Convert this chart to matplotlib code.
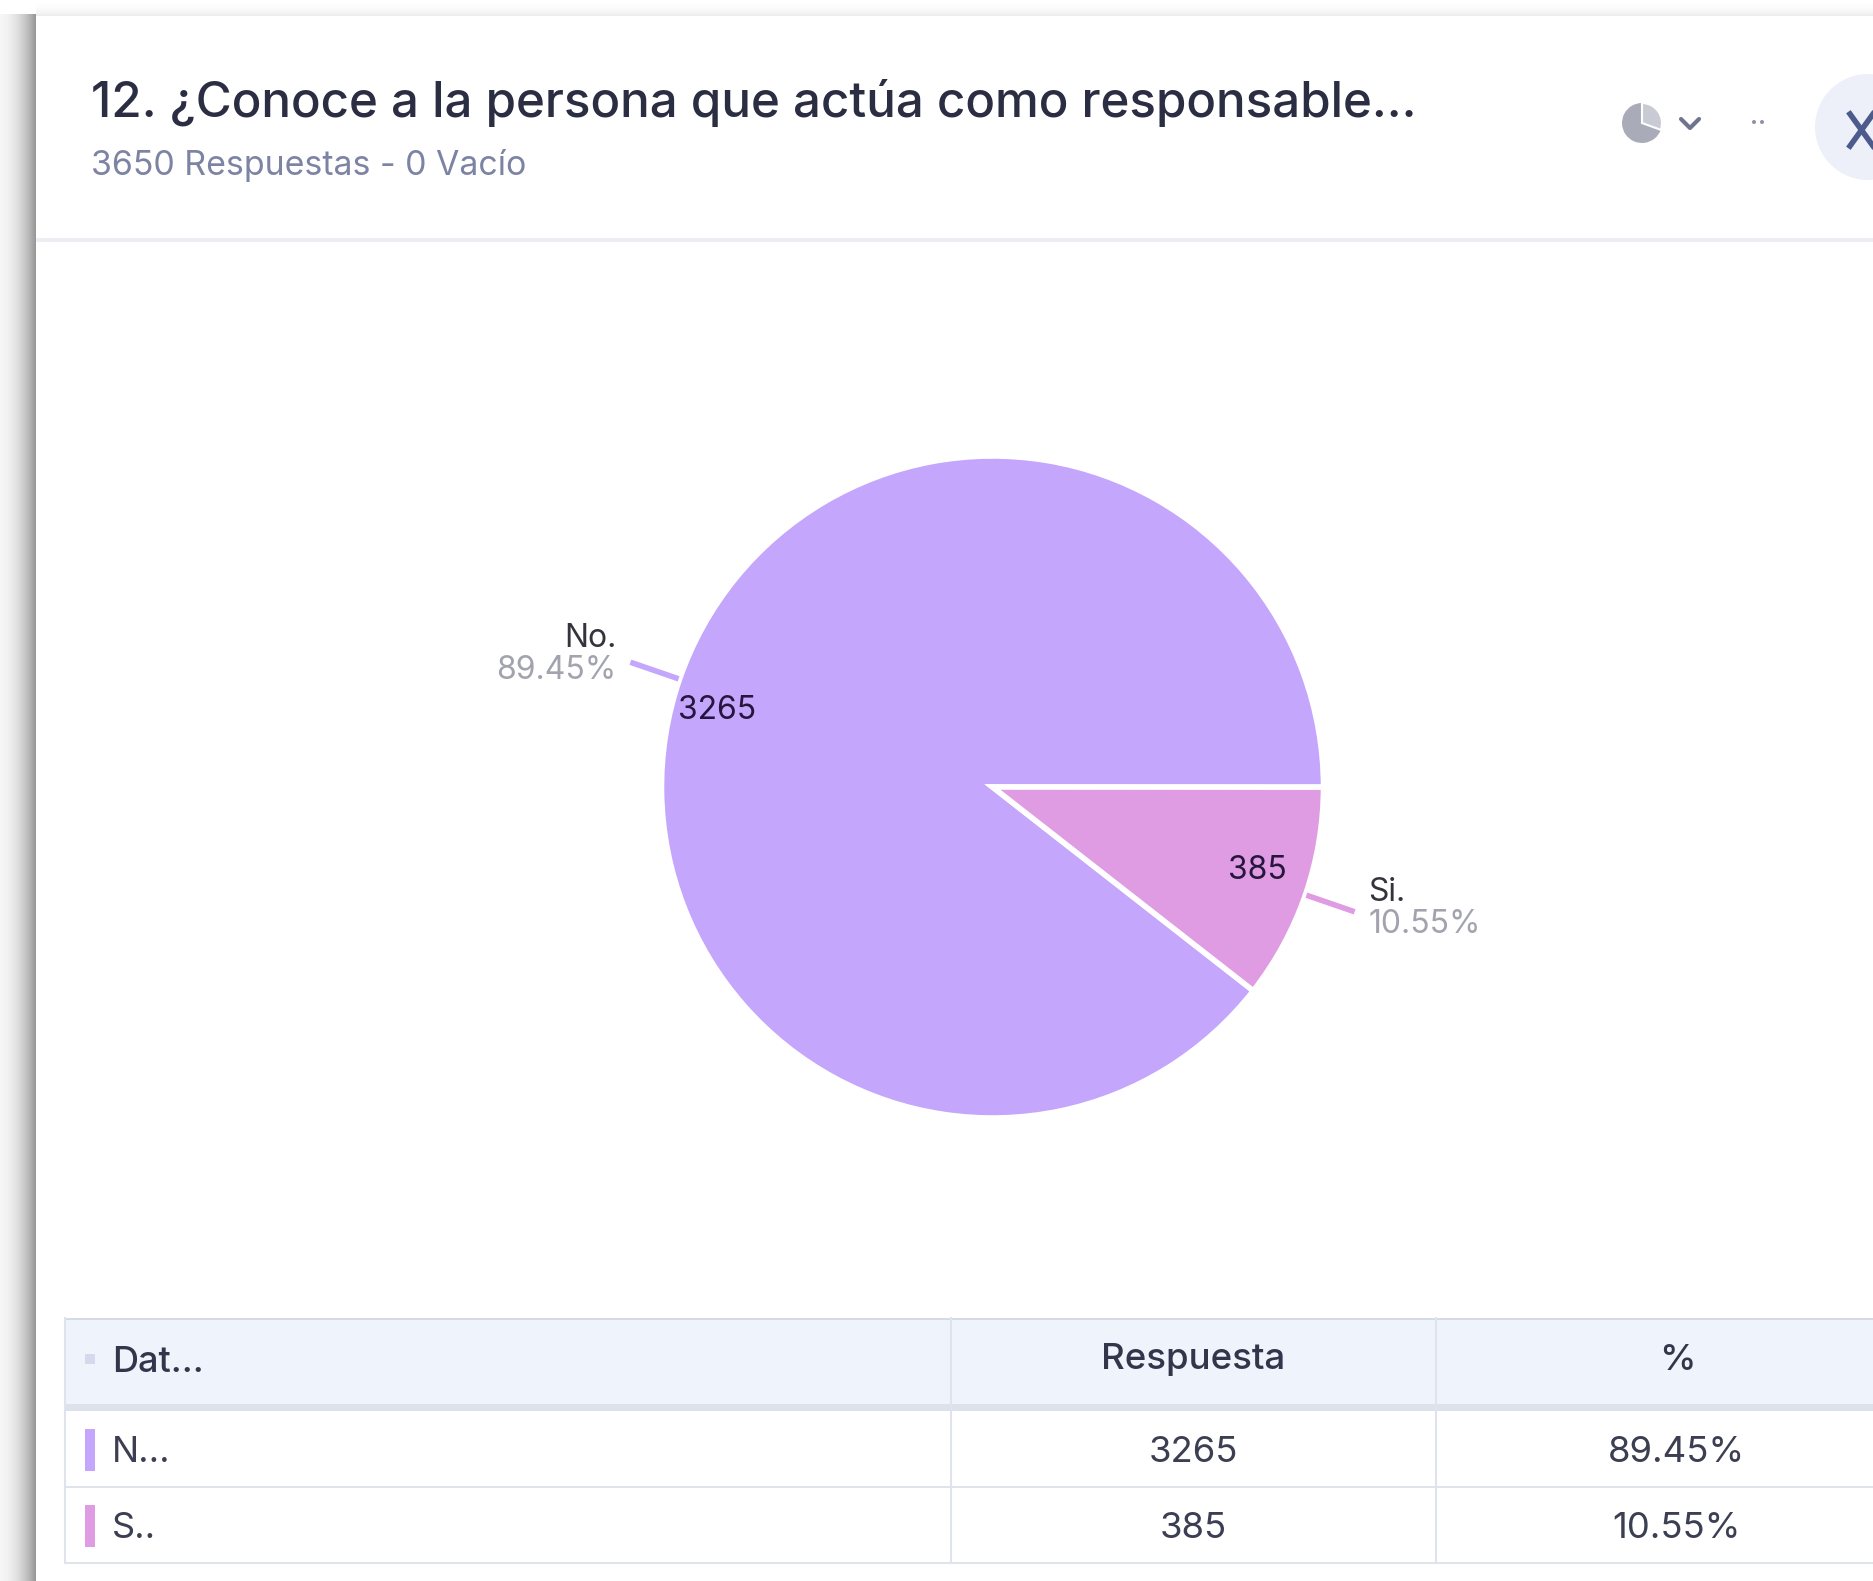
#script to redraw the survey question card with its pie chart and table

import numpy as np
import matplotlib
matplotlib.use('Agg')
import matplotlib.pyplot as plt
from matplotlib.patches import Rectangle, Circle, Wedge

W = 1873
H = 1581

title = '12. ¿Conoce a la persona que actúa como responsable...'
subtitle = '3650 Respuestas - 0 Vacío'
labels = ['No.', 'Si.']
short_labels = ['N...', 'S..']
counts = [3265, 385]
percents = ['89.45%', '10.55%']
colors = ['#c4a6fc', '#e09ce2']
headers = ['Dat...', 'Respuesta', '%']

plt.rcParams['font.family'] = ['Inter', 'DejaVu Sans']


def Y(y):
    # picture rows run downwards, the axes run upwards
    return H - y


def draw_card(ax):
    for i in range(36):
        a = 0.06 + 0.55 * (i / 35) ** 2
        ax.add_patch(Rectangle((i, 0), 1, H - 14, fc='#555555', alpha=a, lw=0))
    for i in range(16):
        a = 0.1 * (i / 15) ** 2
        ax.add_patch(Rectangle((36, Y(i + 1)), W - 36, 1, fc='#555555', alpha=a, lw=0))
    ax.add_patch(Rectangle((36, 0), W - 36, Y(16), fc='white', lw=0))
    ax.add_patch(Rectangle((36, Y(242)), W - 36, 4, fc='#eceef3', lw=0))


def draw_header(ax):
    ax.text(91, Y(103), title, fontsize=35.5, fontweight=500, color='#2b2e42', va='center', ha='left')
    ax.text(91, Y(165), subtitle, fontsize=24.4, color='#7d83a3', va='center', ha='left')

    # chart type icon, chevron, dots and the close button
    ax.add_patch(Wedge((1642, Y(123)), 20, 90, 340, fc='#a9acb8', lw=0))
    ax.add_patch(Wedge((1642, Y(123)), 20, 340, 450, fc='#c9cbd4', ec='white', lw=1.5))
    ax.plot([1681, 1690, 1699], [Y(119), Y(128), Y(119)], color='#70758f', lw=3, solid_capstyle='round')
    ax.add_patch(Circle((1754, Y(122)), 2, fc='#8d92ab', lw=0))
    ax.add_patch(Circle((1762, Y(122)), 2, fc='#8d92ab', lw=0))
    ax.add_patch(Circle((1868, Y(127)), 53, fc='#eef0f9', lw=0))
    ax.plot([1850, 1873], [Y(114), Y(146)], color='#4d5a8c', lw=4)
    ax.plot([1850, 1873], [Y(146), Y(114)], color='#4d5a8c', lw=4)


def draw_pie(ax):
    cx = 992.5
    cy = Y(787)
    r = 331
    wedges, _ = ax.pie(counts, colors=colors, startangle=-38, counterclock=False,
                       center=(cx, cy), radius=r,
                       wedgeprops={'edgecolor': 'white', 'linewidth': 4})
    ax.set_xlim(0, W)
    ax.set_ylim(0, H)

    for i, w in enumerate(wedges):
        mid = np.deg2rad((w.theta1 + w.theta2) / 2)
        dx = np.cos(mid)
        dy = np.sin(mid)
        ax.plot([cx + dx * (r + 1), cx + dx * (r + 52)], [cy + dy * (r + 1), cy + dy * (r + 52)],
                color=colors[i], lw=4, solid_capstyle='butt')
        # name and share beside the leader, the count inside the slice
        ha = 'left' if dx > 0 else 'right'
        tx = cx + dx * (r + 52) + (14 if dx > 0 else -14)
        ty = cy + dy * (r + 52)
        name_y = ty + 24 if dx < 0 else ty + 19
        share_y = ty - 8 if dx < 0 else ty - 13
        ax.text(tx, name_y, labels[i], fontsize=23, color='#33343c', ha=ha, va='center')
        ax.text(tx, share_y, percents[i], fontsize=23, color='#a2a3ad', ha=ha, va='center')
        inner_x = cx + dx * r + (38 if dx < 0 else -48)
        inner_y = cy + dy * r + (-31 if dx < 0 else 24)
        ax.text(inner_x, inner_y, str(counts[i]), fontsize=23, color='#26163f', ha='center', va='center')


def draw_table(ax):
    left = 65
    col1 = 951
    col2 = 1436
    top = 1318
    head = 1404
    band = 1411
    row = 1487
    bottom = 1563
    line = '#dfe3ec'

    ax.add_patch(Rectangle((left, Y(head)), W - left, head - top, fc='#eff3fb', lw=0))
    ax.add_patch(Rectangle((left, Y(band)), W - left, band - head, fc='#dde1ec', lw=0))
    ax.add_patch(Rectangle((left, Y(top + 2)), W - left, 2, fc='#d5dae4', lw=0))
    ax.add_patch(Rectangle((left, Y(row + 1)), W - left, 2.5, fc=line, lw=0))
    ax.add_patch(Rectangle((left, Y(bottom + 1)), W - left, 2.5, fc=line, lw=0))
    for x in [left, col1, col2]:
        ax.plot([x, x], [Y(top), Y(bottom)], color=line, lw=1.5)

    ax.add_patch(Rectangle((85, Y(1364)), 10, 10, fc='#d6d9ec', lw=0))
    ax.text(112, Y(1362), headers[0], fontsize=26, fontweight=500, color='#33364a', ha='left', va='center')
    ax.text(1193, Y(1360), headers[1], fontsize=26.4, fontweight=500, color='#33364a', ha='center', va='center')
    ax.text(1677, Y(1360), headers[2], fontsize=26.4, fontweight=500, color='#33364a', ha='center', va='center')

    for i, yc in enumerate([1452, 1528]):
        ax.add_patch(Rectangle((85, Y(yc + 19)), 10, 42, fc=colors[i], lw=0))
        ax.text(112, Y(yc), short_labels[i], fontsize=26, color='#3c3f52', ha='left', va='center')
        ax.text(1193, Y(yc), str(counts[i]), fontsize=26.3, color='#3c3f52', ha='center', va='center')
        ax.text(1677, Y(yc), percents[i], fontsize=26.3, color='#3c3f52', ha='center', va='center')


def main():
    fig = plt.figure(figsize=(W / 100, H / 100), dpi=100, facecolor='white')
    ax = fig.add_axes([0, 0, 1, 1])
    ax.set_xlim(0, W)
    ax.set_ylim(0, H)
    ax.axis('off')

    draw_card(ax)
    draw_header(ax)
    draw_pie(ax)
    draw_table(ax)

    ax.axis('off')
    fig.savefig('out.png', dpi=100)


if __name__ == '__main__':
    main()
